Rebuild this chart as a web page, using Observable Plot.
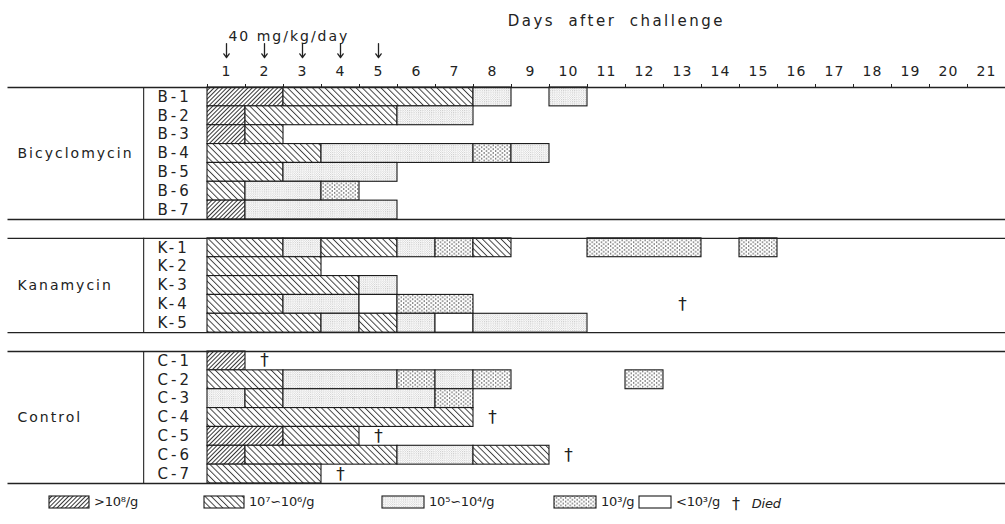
<!DOCTYPE html>
<html>
<head>
<meta charset="utf-8">
<script src="https://cdn.jsdelivr.net/npm/d3@7"></script>
<script src="https://cdn.jsdelivr.net/npm/@observablehq/plot@0.6"></script>
<style>
  html, body { margin: 0; padding: 0; background: #fff; }
  #chart svg { display: block; }
  #legend { position: relative; width: 1005px; height: 34px; font-family: "DejaVu Sans", sans-serif; font-size: 13px; color: #222; }
  #legend .item { position: absolute; top: 4px; display: flex; align-items: center; gap: 4px; white-space: nowrap; letter-spacing: -0.2px; }
  #legend svg { display: block; }
</style>
</head>
<body>
<div id="chart"></div>
<div id="legend"></div>
<script>
// ---- Data ----
const days = d3.range(1, 22);
const doseDays = [1, 2, 3, 4, 5];
const levels = [">10⁸/g", "10⁷∽10⁶/g", "10⁵∽10⁴/g", "10³/g", "<10³/g"];
const [L8, L7, L5, L3, L0] = levels;
const groupNames = ["Bicyclomycin", "Kanamycin", "Control"];
const bicyclomycinRows = ["B-1", "B-2", "B-3", "B-4", "B-5", "B-6", "B-7"];
const kanamycinRows = ["K-1", "K-2", "K-3", "K-4", "K-5"];
const controlRows = ["C-1", "C-2", "C-3", "C-4", "C-5", "C-6", "C-7"];
const doseLabel = "40 mg/kg/day";
const axisTitle = "Days after challenge";

// [row, first day, last day, level]
const bicyclomycinSegments = [
  ["B-1", 1, 2, L8], ["B-1", 3, 7, L7], ["B-1", 8, 8, L5], ["B-1", 10, 10, L5],
  ["B-2", 1, 1, L8], ["B-2", 2, 5, L7], ["B-2", 6, 7, L5],
  ["B-3", 1, 1, L8], ["B-3", 2, 2, L7],
  ["B-4", 1, 3, L7], ["B-4", 4, 7, L5], ["B-4", 8, 8, L3], ["B-4", 9, 9, L5],
  ["B-5", 1, 2, L7], ["B-5", 3, 5, L5],
  ["B-6", 1, 1, L7], ["B-6", 2, 3, L5], ["B-6", 4, 4, L3],
  ["B-7", 1, 1, L8], ["B-7", 2, 5, L5]
];
const kanamycinSegments = [
  ["K-1", 1, 2, L7], ["K-1", 3, 3, L5], ["K-1", 4, 5, L7], ["K-1", 6, 6, L5], ["K-1", 7, 7, L3], ["K-1", 8, 8, L7], ["K-1", 11, 13, L3], ["K-1", 15, 15, L3],
  ["K-2", 1, 3, L7],
  ["K-3", 1, 4, L7], ["K-3", 5, 5, L5],
  ["K-4", 1, 2, L7], ["K-4", 3, 4, L5], ["K-4", 5, 5, L0], ["K-4", 6, 7, L3],
  ["K-5", 1, 3, L7], ["K-5", 4, 4, L5], ["K-5", 5, 5, L7], ["K-5", 6, 6, L5], ["K-5", 7, 7, L0], ["K-5", 8, 10, L5]
];
const controlSegments = [
  ["C-1", 1, 1, L8],
  ["C-2", 1, 2, L7], ["C-2", 3, 5, L5], ["C-2", 6, 6, L3], ["C-2", 7, 7, L5], ["C-2", 8, 8, L3], ["C-2", 12, 12, L3],
  ["C-3", 1, 1, L5], ["C-3", 2, 2, L7], ["C-3", 3, 6, L5], ["C-3", 7, 7, L3],
  ["C-4", 1, 7, L7],
  ["C-5", 1, 2, L8], ["C-5", 3, 4, L7],
  ["C-6", 1, 1, L8], ["C-6", 2, 5, L7], ["C-6", 6, 7, L5], ["C-6", 8, 9, L7],
  ["C-7", 1, 3, L7]
];
// [row, day of death]
const deaths = [["K-4", 13], ["C-1", 2], ["C-4", 8], ["C-5", 5], ["C-6", 10], ["C-7", 4]];

// ---- Layout helpers (row slots, one empty slot between groups) ----
const groupRows = [bicyclomycinRows, kanamycinRows, controlRows];
const rowPos = new Map();
const groups = [];
let slot = 0;
groupRows.forEach((rows, gi) => {
  const start = slot;
  rows.forEach(r => rowPos.set(r, slot++));
  groups.push({name: groupNames[gi], start, end: slot});
  slot++;
});
const totalSlots = slot - 1;
const edges = groups.flatMap(g => [g.start, g.end]);

const segments = [...bicyclomycinSegments, ...kanamycinSegments, ...controlSegments]
  .map(([row, start, end, level]) => ({row, start, end, level, pos: rowPos.get(row)}));
const rowList = [...rowPos.keys()].map(r => ({row: r, pos: rowPos.get(r)}));
const deathList = deaths.map(([row, day]) => ({row, day, pos: rowPos.get(row)}));
const patternIds = levels.map((_, i) => `pat${i}`);

const leftEdge = -5.25;   // horizontal separators start near page edge
const sepX = -1.68;       // vertical separator between group and row labels

const chart = Plot.plot({
  width: 1005,
  height: 490,
  marginLeft: 207,
  marginRight: 0,
  marginTop: 87,
  marginBottom: 7,
  style: {fontFamily: "DejaVu Sans, sans-serif", fontSize: "14px", color: "#222", background: "#fff"},
  x: {domain: [0, 21], axis: null},
  y: {domain: [0, totalSlots], reverse: true, axis: null},
  color: {type: "ordinal", domain: levels, range: patternIds.map(id => `url(#${id})`)},
  marks: [
    Plot.rect(segments, {x1: d => d.start - 1, x2: "end", y1: "pos", y2: d => d.pos + 1, fill: "level", stroke: "#1a1a1a", strokeWidth: 1.1}),
    Plot.ruleY(edges, {y: d => d, x1: leftEdge, x2: 21, stroke: "#222", strokeWidth: 1.4}),
    Plot.ruleX(groups, {x: sepX, y1: "start", y2: "end", stroke: "#222", strokeWidth: 1.1}),
    Plot.axisX(d3.range(0, 21), {anchor: "top", tickSize: 4, tickFormat: () => "", label: null, stroke: "#222"}),
    Plot.axisX(days.map(d => d - 0.5), {anchor: "top", tickSize: 0, tickPadding: 12, tickFormat: d => String(d + 0.5), label: null, fontSize: 14}),
    Plot.text(rowList, {y: d => d.pos + 0.5, frameAnchor: "left", dx: -50, textAnchor: "start", text: "row", fontSize: 15, fill: "#222"}),
    Plot.text(groups, {y: d => (d.start + d.end) / 2, frameAnchor: "left", dx: -190, textAnchor: "start", text: "name", fontSize: 14, fill: "#222"}),
    Plot.text(deathList, {x: d => d.day - 0.5, y: d => d.pos + 0.5, text: () => "†", fontSize: 17, fill: "#222"}),
    Plot.arrow(doseDays, {x: d => d - 0.5, y1: -2.33, y2: -1.58, headLength: 7, headAngle: 70, stroke: "#222", strokeWidth: 1.3}),
    Plot.text([doseLabel], {x: 0.55, frameAnchor: "top", dy: -56, textAnchor: "start", text: d => d, fontSize: 14, fill: "#222"}),
    Plot.text([axisTitle], {x: 7.9, frameAnchor: "top", dy: -72, textAnchor: "start", text: d => d, fontSize: 15, fill: "#222"})
  ]
});

// letter spacing of the hand-lettered texts (matched by content)
const rowSet = new Set(rowPos.keys());
d3.select(chart).selectAll("text").each(function () {
  const t = this.textContent.trim();
  let ls = null, ws = null;
  if (rowSet.has(t)) ls = "3px";
  else if (groupNames.includes(t)) ls = "2px";
  else if (t === doseLabel) ls = "2px";
  else if (t === axisTitle) { ls = "2.5px"; ws = "6px"; }
  else if (/^\d+$/.test(t)) ls = "1px";
  if (ls) {
    this.setAttribute("letter-spacing", ls);
    this.style.letterSpacing = ls;
  }
  if (ws) {
    this.setAttribute("word-spacing", ws);
    this.style.wordSpacing = ws;
  }
});

// ---- Fill patterns ----
const defs = d3.select(chart).insert("defs", ":first-child");
function pat(id, w, h, rot) {
  const p = defs.append("pattern").attr("id", id).attr("patternUnits", "userSpaceOnUse")
    .attr("width", w).attr("height", h);
  if (rot) p.attr("patternTransform", `rotate(${rot})`);
  p.append("rect").attr("width", w).attr("height", h).attr("fill", "#fff");
  return p;
}
// >10^8 : dense "/" hatching
pat("pat0", 3, 3, 45).append("line").attr("x1", 0.5).attr("y1", 0).attr("x2", 0.5).attr("y2", 3).attr("stroke", "#2a2a2a").attr("stroke-width", 0.95);
// 10^7-10^6 : "\" hatching
pat("pat1", 4.4, 4.4, -45).append("line").attr("x1", 0.5).attr("y1", 0).attr("x2", 0.5).attr("y2", 4.4).attr("stroke", "#333").attr("stroke-width", 0.9);
// 10^5-10^4 : fine light stipple
{
  const p = pat("pat2", 2.2, 2.2, 0);
  p.append("circle").attr("cx", 0.6).attr("cy", 0.6).attr("r", 0.45).attr("fill", "#888");
  p.append("circle").attr("cx", 1.7).attr("cy", 1.7).attr("r", 0.35).attr("fill", "#aaa");
}
// 10^3 : coarser, sparser dots
{
  const p = pat("pat3", 4.6, 3.8, 0);
  p.append("circle").attr("cx", 1.1).attr("cy", 0.95).attr("r", 0.75).attr("fill", "#333");
  p.append("circle").attr("cx", 3.4).attr("cy", 2.85).attr("r", 0.75).attr("fill", "#333");
}
// <10^3 : empty
pat("pat4", 4, 4, 0);

document.getElementById("chart").appendChild(chart);

// ---- Legend ----
const legendItems = [
  {label: levels[0], pattern: patternIds[0], left: 48, w: 40},
  {label: levels[1], pattern: patternIds[1], left: 203, w: 40},
  {label: levels[2], pattern: patternIds[2], left: 381, w: 42},
  {label: levels[3], pattern: patternIds[3], left: 553, w: 42},
  {label: levels[4], pattern: patternIds[4], left: 638, w: 32}
];
const legend = d3.select("#legend");
legendItems.forEach(it => {
  const item = legend.append("div").attr("class", "item").style("left", it.left + "px");
  const s = item.append("svg").attr("width", it.w + 2).attr("height", 14);
  s.append("rect").attr("x", 1).attr("y", 1).attr("width", it.w).attr("height", 12)
    .attr("fill", `url(#${it.pattern})`).attr("stroke", "#1a1a1a").attr("stroke-width", 1.1);
  item.append("span").text(it.label);
});
legend.append("div").attr("class", "item").style("left", "732px").style("font-style", "italic")
  .html("<span style='font-style:normal;font-size:16px'>†</span>&nbsp;&nbsp;Died");
</script>
</body>
</html>
